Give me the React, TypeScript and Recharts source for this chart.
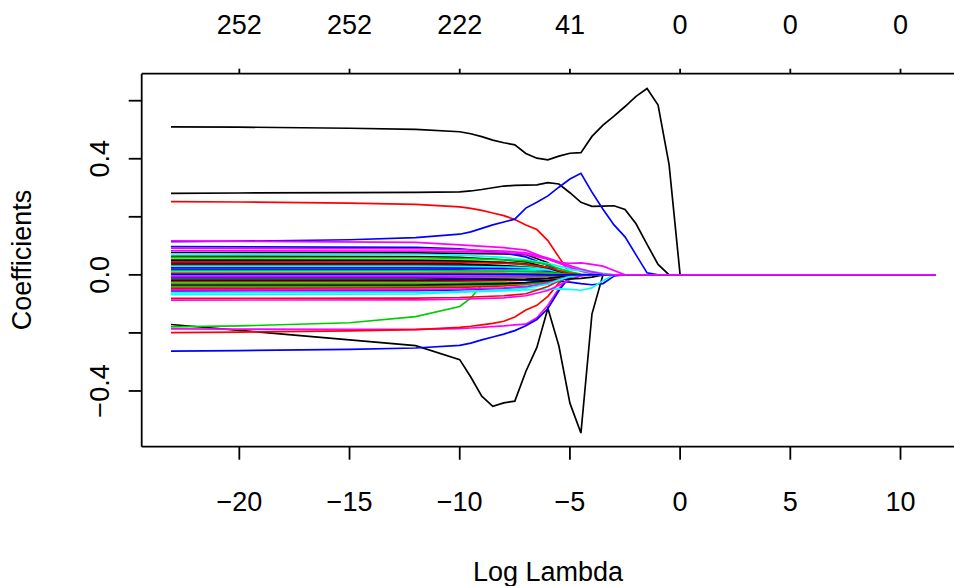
import React from 'react';
import { LineChart, Line, XAxis, YAxis } from 'recharts';

// log(lambda) grid for the large coefficients
const logLambda = [
  -23.1, -20, -15, -12, -10, -9.5, -9, -8.5, -8, -7.5, -7, -6.5, -6, -5.5, -5,
  -4.5, -4, -3.5, -3, -2.5, -2, -1.5, -1, -0.5, 0, 11.6,
];

const pathA = [0.510, 0.509, 0.505, 0.501, 0.493, 0.486, 0.476, 0.464, 0.455, 0.448, 0.418, 0.402, 0.396, 0.409, 0.419, 0.421, 0.477, 0.516, 0.547, 0.580, 0.615, 0.642, 0.585, 0.380, 0, 0];
const pathB = [0.281, 0.282, 0.283, 0.284, 0.286, 0.289, 0.294, 0.300, 0.306, 0.308, 0.309, 0.310, 0.318, 0.313, 0.283, 0.250, 0.236, 0.237, 0.238, 0.225, 0.176, 0.105, 0.036, 0, 0, 0];
const pathC = [0.252, 0.251, 0.247, 0.243, 0.234, 0.229, 0.222, 0.213, 0.204, 0.191, 0.172, 0.156, 0.118, 0.061, 0.005, 0, 0, 0, 0, 0, 0, 0, 0, 0, 0, 0];
const pathD = [0.114, 0.116, 0.121, 0.128, 0.140, 0.148, 0.160, 0.172, 0.182, 0.192, 0.230, 0.250, 0.272, 0.302, 0.330, 0.350, 0.285, 0.226, 0.172, 0.131, 0.069, 0.007, 0, 0, 0, 0];
const pathE = [-0.171, -0.191, -0.224, -0.244, -0.292, -0.352, -0.418, -0.453, -0.441, -0.435, -0.333, -0.250, -0.115, -0.245, -0.442, -0.545, -0.135, 0, 0, 0, 0, 0, 0, 0, 0, 0];
const pathF = [-0.179, -0.176, -0.165, -0.144, -0.109, -0.080, -0.035, -0.030, -0.029, -0.028, -0.027, -0.026, -0.025, -0.018, -0.004, 0, 0, 0, 0, 0, 0, 0, 0, 0, 0, 0];
const pathG = [-0.186, -0.187, -0.188, -0.188, -0.185, -0.183, -0.181, -0.178, -0.176, -0.172, -0.170, -0.148, -0.105, -0.047, -0.005, 0, 0, 0, 0, 0, 0, 0, 0, 0, 0, 0];
const pathH = [-0.199, -0.197, -0.193, -0.189, -0.181, -0.177, -0.172, -0.167, -0.160, -0.145, -0.121, -0.105, -0.074, -0.028, 0, 0, 0, 0, 0, 0, 0, 0, 0, 0, 0, 0];
const pathI = [-0.263, -0.261, -0.257, -0.252, -0.243, -0.235, -0.224, -0.214, -0.204, -0.192, -0.175, -0.154, -0.116, -0.055, -0.005, 0, 0, 0, 0, 0, 0, 0, 0, 0, 0, 0];

const majorPaths = [pathA, pathB, pathC, pathD, pathE, pathF, pathG, pathH, pathI];
const majorColors = ['#000000', '#000000', '#FF0000', '#0000FF', '#000000', '#00CD00', '#FF00FF', '#FF0000', '#0000FF'];

// coarser grid for the small coefficients
const smallLambda = [-23.1, -12, -10, -8, -7, -6, -5.5, -5, -4.5, -4, -3.5, -3, -2.5, 11.6];

const smallPaths = [
  [0.077, 0.076, 0.074, 0.072, 0.070, 0.042, 0.008, 0, 0, 0, 0, 0, 0, 0],
  [0.036, 0.036, 0.034, 0.030, 0.027, 0.018, 0.010, 0.003, 0, 0, 0, 0, 0, 0],
  [0.053, 0.052, 0.050, 0.044, 0.038, 0.026, 0.016, 0.006, 0, 0, 0, 0, 0, 0],
  [0.097, 0.095, 0.090, 0.076, 0.062, 0.032, 0.016, 0.005, 0, 0, 0, 0, 0, 0],
  [0.072, 0.071, 0.068, 0.060, 0.052, 0.040, 0.030, 0.022, 0.018, 0.012, 0.005, 0, 0, 0],
  [0.083, 0.082, 0.080, 0.077, 0.071, 0.054, 0.040, 0.026, 0.013, 0.004, 0, 0, 0, 0],
  [0.064, 0.063, 0.060, 0.052, 0.045, 0.024, 0.010, 0.002, 0, 0, 0, 0, 0, 0],
  [-0.023, -0.023, -0.022, -0.020, -0.018, -0.012, -0.006, -0.002, 0, 0, 0, 0, 0, 0],
  [0.028, 0.028, 0.027, 0.026, 0.030, 0.026, 0.014, 0.004, 0, 0, 0, 0, 0, 0],
  [0.018, 0.018, 0.017, 0.015, 0.012, 0.008, 0.004, 0, 0, 0, 0, 0, 0, 0],
  [0.048, 0.047, 0.045, 0.040, 0.035, 0.022, 0.012, 0.004, 0, 0, 0, 0, 0, 0],
  [0.023, 0.023, 0.022, 0.020, 0.018, 0.012, 0.006, 0.002, 0, 0, 0, 0, 0, 0],
  [0.041, 0.040, 0.038, 0.032, 0.026, 0.013, 0.005, 0, 0, 0, 0, 0, 0, 0],
  [-0.041, -0.040, -0.038, -0.034, -0.030, -0.020, -0.012, -0.004, 0, 0, 0, 0, 0, 0],
  [-0.012, -0.012, -0.011, -0.010, -0.009, -0.006, -0.003, 0, 0, 0, 0, 0, 0, 0],
  [-0.010, -0.010, -0.012, -0.015, -0.018, -0.020, -0.022, -0.025, -0.030, -0.034, -0.030, -0.004, 0, 0],
  [0.009, 0.009, 0.009, 0.008, 0.008, 0.006, 0.003, 0, 0, 0, 0, 0, 0, 0],
  [-0.006, -0.006, -0.006, -0.005, -0.005, -0.003, -0.001, 0, 0, 0, 0, 0, 0, 0],
  [0.033, 0.033, 0.031, 0.028, 0.024, 0.014, 0.006, 0, 0, 0, 0, 0, 0, 0],
  [-0.046, -0.045, -0.043, -0.038, -0.033, -0.022, -0.012, -0.004, 0, 0, 0, 0, 0, 0],
  [-0.029, -0.029, -0.028, -0.026, -0.030, -0.030, -0.022, -0.008, 0, 0, 0, 0, 0, 0],
  [0.003, 0.003, 0.003, 0.003, 0.002, 0.001, 0, 0, 0, 0, 0, 0, 0, 0],
  [-0.068, -0.066, -0.060, -0.055, -0.052, -0.050, -0.048, -0.050, -0.053, -0.045, -0.020, 0, 0, 0],
  [0.117, 0.112, 0.103, 0.094, 0.085, 0.055, 0.042, 0.040, 0.041, 0.036, 0.030, 0.015, 0, 0],
  [-0.018, -0.018, -0.017, -0.016, -0.015, -0.012, -0.008, -0.003, 0, 0, 0, 0, 0, 0],
  [-0.081, -0.080, -0.078, -0.072, -0.065, -0.040, -0.020, -0.005, 0, 0, 0, 0, 0, 0],
  [-0.040, -0.039, -0.037, -0.033, -0.030, -0.022, -0.014, -0.005, 0, 0, 0, 0, 0, 0],
  [0.025, 0.025, 0.024, 0.022, 0.020, 0.014, 0.007, 0.002, 0, 0, 0, 0, 0, 0],
  [0.014, 0.014, 0.014, 0.015, 0.016, 0.018, 0.018, 0.017, 0.015, 0.008, 0.002, 0, 0, 0],
  [-0.087, -0.086, -0.084, -0.079, -0.072, -0.054, -0.036, -0.016, -0.004, 0, 0, 0, 0, 0],
  [-0.035, -0.035, -0.033, -0.030, -0.027, -0.020, -0.016, -0.014, -0.012, -0.008, 0, 0, 0, 0],
  [0.005, 0.005, 0.005, 0.004, 0.003, 0.002, 0.001, 0, 0, 0, 0, 0, 0, 0],
  [0.060, 0.059, 0.057, 0.052, 0.048, 0.035, 0.022, 0.010, 0.003, 0, 0, 0, 0, 0],
  [-0.055, -0.054, -0.052, -0.047, -0.042, -0.030, -0.018, -0.006, 0, 0, 0, 0, 0, 0],
  [0.030, 0.030, 0.029, 0.027, 0.025, 0.018, 0.010, 0.003, 0, 0, 0, 0, 0, 0],
  [-0.052, -0.051, -0.049, -0.045, -0.040, -0.028, -0.016, -0.005, 0, 0, 0, 0, 0, 0],
  [0.050, 0.049, 0.047, 0.042, 0.037, 0.024, 0.012, 0.003, 0, 0, 0, 0, 0, 0],
  [0.045, 0.044, 0.043, 0.040, 0.036, 0.026, 0.014, 0.004, 0, 0, 0, 0, 0, 0],
  [0.015, 0.015, 0.014, 0.013, 0.012, 0.008, 0.004, 0.001, 0, 0, 0, 0, 0, 0],
  [-0.062, -0.061, -0.058, -0.052, -0.046, -0.032, -0.018, -0.006, 0, 0, 0, 0, 0, 0],
  [0.001, 0.001, 0.001, 0.001, 0.001, 0, 0, 0, 0, 0, 0, 0, 0, 0],
  [0.092, 0.090, 0.087, 0.082, 0.076, 0.058, 0.045, 0.032, 0.020, 0.010, 0.003, 0, 0, 0],
];
const smallColors = [
  '#000000', '#FF0000', '#00CD00', '#0000FF', '#00FFFF', '#FF00FF',
  '#000000', '#FF0000', '#00CD00', '#0000FF', '#00FFFF', '#FF00FF',
  '#000000', '#FF0000', '#00CD00', '#0000FF', '#00FFFF', '#FF00FF',
  '#000000', '#FF0000', '#00CD00', '#0000FF', '#00FFFF', '#FF00FF',
  '#000000', '#FF0000', '#00CD00', '#0000FF', '#00FFFF', '#FF00FF',
  '#000000', '#FF0000', '#00CD00', '#0000FF', '#00FFFF', '#FF00FF',
  '#000000', '#FF0000', '#00CD00', '#00FFFF', '#0000FF', '#FF00FF',
];

const xTicks = [-20, -15, -10, -5, 0, 5, 10];
const dfLabels = ['252', '252', '222', '41', '0', '0', '0'];
const yTicks = [-0.4, -0.2, 0, 0.2, 0.4, 0.6];
const yLabelled = [-0.4, 0, 0.4];

const FONT = '"Liberation Sans", Arial, Helvetica, sans-serif';
const FS = 27;

const minus = (s: string) => s.replace('-', '\u2212');

const BottomTick = (props: any) => {
  const { x, y, payload } = props;
  return (
    <text x={x} y={y + 40} textAnchor="middle" dominantBaseline="central" fontSize={FS} fontFamily={FONT} fill="#000">
      {minus(String(payload.value))}
    </text>
  );
};

const TopTick = (props: any) => {
  const { x, y, payload } = props;
  const i = xTicks.indexOf(payload.value);
  return (
    <text x={x} y={y - 42} textAnchor="middle" dominantBaseline="central" fontSize={FS} fontFamily={FONT} fill="#000">
      {dfLabels[i]}
    </text>
  );
};

const LeftTick = (props: any) => {
  const { x, y, payload } = props;
  const v = payload.value as number;
  if (!yLabelled.some((t) => Math.abs(t - v) < 1e-9)) return <g />;
  const cx = x - 27;
  return (
    <text x={cx} y={y} transform={`rotate(-90, ${cx}, ${y})`} textAnchor="middle" dominantBaseline="central" fontSize={FS} fontFamily={FONT} fill="#000">
      {minus(v.toFixed(1))}
    </text>
  );
};

export default function App() {
  const axisStroke = { stroke: '#000', strokeWidth: 1.8 };
  return (
    <div style={{ position: 'absolute', left: 0, top: 0, width: 954, height: 586, overflow: 'hidden', background: '#fff' }}>
      <LineChart width={980} height={586} margin={{ top: 0, right: 13.6, bottom: 0, left: 0 }}>
        <XAxis
          xAxisId="bottom"
          type="number"
          dataKey="x"
          domain={[-24.43, 12.99]}
          allowDataOverflow
          ticks={xTicks}
          height={139.3}
          tickSize={13}
          axisLine={axisStroke}
          tickLine={axisStroke}
          tick={<BottomTick />}
        />
        <XAxis
          xAxisId="top"
          orientation="top"
          type="number"
          dataKey="x"
          domain={[-24.43, 12.99]}
          allowDataOverflow
          ticks={xTicks}
          height={73.7}
          tickSize={5}
          axisLine={axisStroke}
          tickLine={axisStroke}
          tick={<TopTick />}
        />
        <YAxis
          type="number"
          domain={[-0.592, 0.693]}
          allowDataOverflow
          ticks={yTicks}
          width={141.7}
          tickSize={13}
          axisLine={axisStroke}
          tickLine={axisStroke}
          tick={<LeftTick />}
        />
        {majorPaths.map((p, k) => (
          <Line
            key={`m${k}`}
            xAxisId="bottom"
            data={logLambda.map((x, i) => ({ x, y: p[i] }))}
            dataKey="y"
            type="linear"
            stroke={majorColors[k]}
            strokeWidth={1.7}
            dot={false}
            activeDot={false}
            isAnimationActive={false}
          />
        ))}
        {smallPaths.map((p, k) => (
          <Line
            key={`s${k}`}
            xAxisId="bottom"
            data={smallLambda.map((x, i) => ({ x, y: p[i] }))}
            dataKey="y"
            type="linear"
            stroke={smallColors[k]}
            strokeWidth={1.7}
            dot={false}
            activeDot={false}
            isAnimationActive={false}
          />
        ))}
      </LineChart>
      <div
        style={{
          position: 'absolute', left: 548, top: 572, transform: 'translate(-50%, -50%)',
          fontFamily: FONT, fontSize: FS, whiteSpace: 'nowrap', color: '#000',
        }}
      >
        Log Lambda
      </div>
      <div
        style={{
          position: 'absolute', left: 22, top: 260, transform: 'translate(-50%, -50%) rotate(-90deg)',
          fontFamily: FONT, fontSize: FS, whiteSpace: 'nowrap', color: '#000',
        }}
      >
        Coefficients
      </div>
    </div>
  );
}
